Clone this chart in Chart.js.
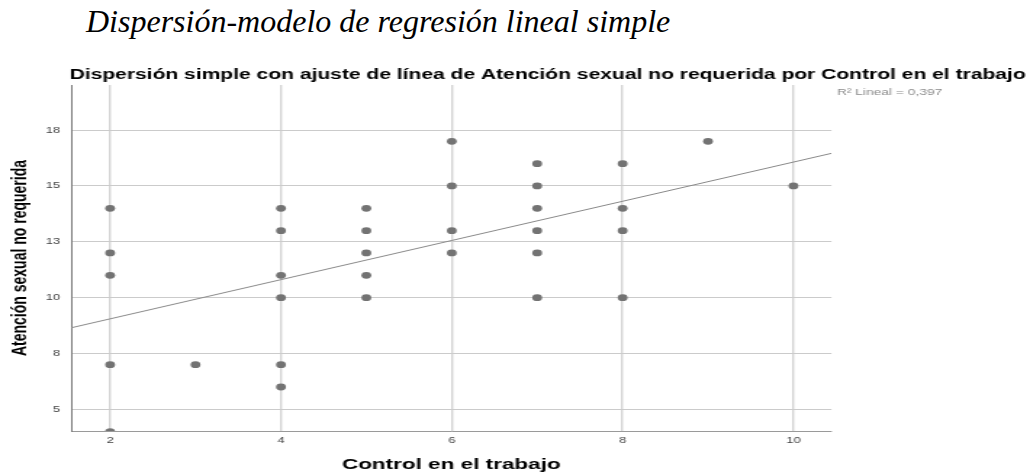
<!DOCTYPE html>
<html>
<head>
<meta charset="utf-8">
<script src="https://cdn.jsdelivr.net/npm/chart.js@4.4.1/dist/chart.umd.min.js"></script>
<style>
body{margin:0;background:#fff;overflow:hidden;width:1030px;height:473px;}
#cabecera{position:absolute;left:86px;top:5px;font-family:'Liberation Serif','Times New Roman',serif;font-style:italic;font-size:32px;line-height:32px;color:#000;white-space:nowrap;}
#cont{position:absolute;left:0;top:55px;width:710px;height:422px;transform:scaleX(1.4507);transform-origin:0 0;}
</style>
</head>
<body>
<div id="cabecera">Dispersión-modelo de regresión lineal simple</div>
<div id="cont"><canvas id="myChart" width="710" height="422"></canvas></div>
<script>
// datos
let controlX = [2,2,2,2,2, 3, 4,4,4,4,4,4, 5,5,5,5,5, 6,6,6,6, 7,7,7,7,7,7, 8,8,8,8, 9, 10];
let atencionY = [14,12,11,7,4, 7, 14,13,11,10,7,6, 14,13,12,11,10, 17,15,13,12, 16,15,14,13,12,10, 16,14,13,10, 17, 15];
let ajusteX = [1.543, 10.445];
let ajusteY = [8.65, 16.46];
let xTicks = [2, 4, 6, 8, 10];
let yTicks = [5, 7.5, 10, 12.5, 15, 17.5];
let yTickLabels = ["5", "8", "10", "13", "15", "18"];
let r2Label = "R² Lineal = 0,397";

let fuente = "'Liberation Sans', Arial, sans-serif";
let ctx = document.getElementById('myChart').getContext('2d');

let puntos = controlX.map(function(x, i){ return {x: x, y: atencionY[i]}; });
let linea = ajusteX.map(function(x, i){ return {x: x, y: ajusteY[i]}; });

let myChart = new Chart(ctx, {
    type: 'scatter',
    data: {
        datasets: [{
            label: 'puntos',
            data: puntos,
            pointRadius: 3.4,
            pointHoverRadius: 3.4,
            pointBorderWidth: 0,
            backgroundColor: '#737373',
            borderColor: '#737373',
            clip: 0
        }, {
            label: r2Label,
            data: linea,
            showLine: true,
            pointRadius: 0,
            borderColor: '#8a8a8a',
            borderWidth: 1,
            clip: 0
        }]
    },
    options: {
        responsive: false,
        animation: false,
        layout: {padding: {left: 0, right: 3, top: 0, bottom: 0}},
        plugins: {
            title: {
                display: true,
                text: 'Dispersión simple con ajuste de línea de Atención sexual no requerida por Control en el trabajo',
                align: 'end',
                color: '#000',
                font: {family: fuente, size: 14.5, weight: 'bold'},
                padding: {top: 11.5, bottom: 1.1}
            },
            legend: {
                display: true,
                position: 'right',
                align: 'start',
                fullSize: false,
                labels: {
                    boxWidth: -4,
                    padding: 3,
                    color: '#8c8c8c',
                    font: {family: fuente, size: 9.5},
                    generateLabels: function(chart){
                        return [{text: r2Label, datasetIndex: 1, fillStyle: 'rgba(0,0,0,0)', strokeStyle: 'rgba(0,0,0,0)', lineWidth: 0, fontColor: '#8c8c8c'}];
                    }
                }
            },
            tooltip: {enabled: false}
        },
        scales: {
            x: {
                type: 'linear',
                min: 1.543,
                max: 10.445,
                afterBuildTicks: function(scale){ scale.ticks = xTicks.map(function(v){ return {value: v}; }); },
                ticks: {color: '#444', padding: 4.5, font: {family: fuente, size: 9}},
                grid: {color: '#d4d4d4', lineWidth: 1.4, drawTicks: false},
                border: {display: true, color: '#9a9a9a', width: 1},
                title: {
                    display: true,
                    text: 'Control en el trabajo',
                    color: '#000',
                    font: {family: fuente, size: 15.5, weight: 'bold'},
                    padding: {top: 4.6, bottom: 3}
                }
            },
            y: {
                type: 'linear',
                min: 4.03,
                max: 19.52,
                afterBuildTicks: function(scale){ scale.ticks = yTicks.map(function(v){ return {value: v}; }); },
                afterFit: function(scale){ scale.width = 49; },
                ticks: {
                    color: '#444', padding: 7.5, font: {family: fuente, size: 9},
                    callback: function(v, i){ return yTickLabels[i]; }
                },
                grid: {color: '#cbcbcb', lineWidth: 1, drawTicks: false},
                border: {display: true, color: '#7a7a7a', width: 1},
                title: {
                    display: true,
                    text: 'Atención sexual no requerida',
                    color: '#000',
                    font: {family: fuente, size: 14, weight: 'bold'},
                    padding: {top: 6, bottom: 0}
                }
            },
            // hueco a la derecha del R2, como en SPSS
            hueco: {
                type: 'linear',
                position: 'right',
                weight: 2000,
                afterFit: function(scale){ scale.width = 47.5; },
                ticks: {display: false},
                grid: {display: false, drawTicks: false},
                border: {display: false}
            }
        }
    }
});
</script>
</body>
</html>
